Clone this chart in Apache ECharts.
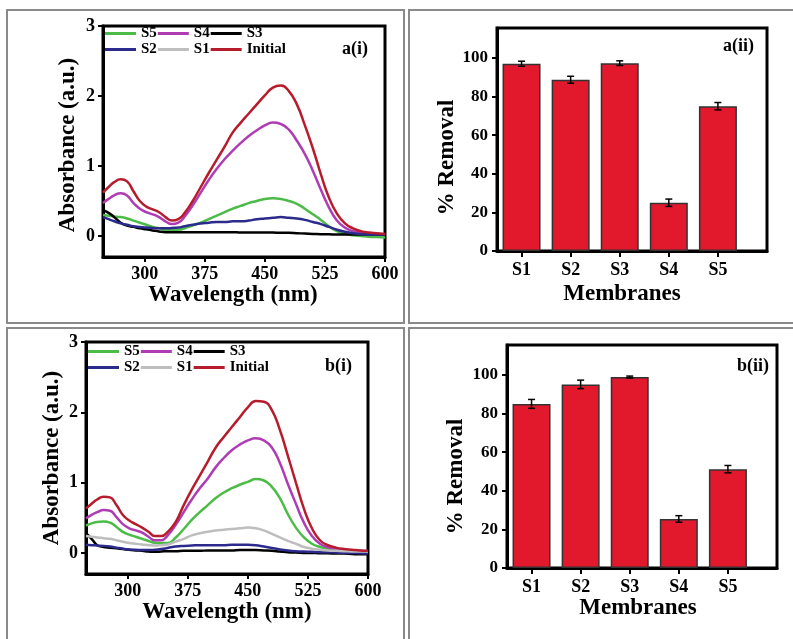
<!DOCTYPE html>
<html><head><meta charset="utf-8">
<script src="https://cdn.jsdelivr.net/npm/echarts@6/dist/echarts.min.js"></script>
<style>html,body{margin:0;padding:0;background:#fff}#c{width:793px;height:639px}</style>
</head><body><div id="c"></div>
<script>
// ---- data ----
const wavelengths = [248,255,262,270,278,286,294,302,310,318,326,334,342,350,360,370,380,390,400,410,420,430,440,450,460,470,480,490,500,510,520,530,540,550,560,570,580,590,600];
const aInitial = [0.62,0.70,0.77,0.81,0.78,0.64,0.50,0.42,0.38,0.34,0.27,0.22,0.24,0.33,0.50,0.70,0.90,1.09,1.28,1.48,1.62,1.75,1.88,2.01,2.12,2.15,2.07,1.88,1.58,1.25,0.88,0.55,0.32,0.18,0.11,0.07,0.05,0.04,0.03];
const aS4 = [0.47,0.53,0.58,0.61,0.58,0.47,0.39,0.34,0.31,0.27,0.21,0.17,0.19,0.28,0.44,0.62,0.80,0.96,1.10,1.22,1.33,1.43,1.51,1.58,1.62,1.60,1.52,1.36,1.17,0.93,0.66,0.41,0.22,0.12,0.07,0.05,0.03,0.02,0.02];
const aS5 = [0.30,0.29,0.28,0.27,0.25,0.22,0.19,0.16,0.13,0.11,0.09,0.085,0.09,0.11,0.15,0.19,0.24,0.29,0.34,0.39,0.43,0.47,0.50,0.53,0.54,0.53,0.50,0.46,0.39,0.31,0.23,0.14,0.07,0.03,0.01,0.0,-0.01,-0.015,-0.02];
const aS3 = [0.37,0.33,0.27,0.19,0.15,0.13,0.11,0.095,0.08,0.065,0.055,0.055,0.055,0.055,0.055,0.055,0.055,0.055,0.055,0.055,0.05,0.05,0.05,0.05,0.05,0.045,0.045,0.04,0.035,0.03,0.025,0.025,0.02,0.02,0.02,0.02,0.02,0.02,0.02];
const aS2 = [0.27,0.24,0.21,0.18,0.16,0.14,0.13,0.12,0.115,0.11,0.11,0.115,0.12,0.14,0.16,0.18,0.19,0.20,0.20,0.21,0.21,0.22,0.24,0.25,0.26,0.27,0.26,0.25,0.23,0.20,0.17,0.13,0.09,0.06,0.04,0.03,0.02,0.02,0.02];
const aS1 = [];
const bInitial = [0.63,0.70,0.76,0.80,0.79,0.68,0.54,0.46,0.41,0.36,0.30,0.24,0.24,0.30,0.44,0.68,0.90,1.10,1.30,1.50,1.65,1.79,1.93,2.07,2.16,2.15,2.03,1.75,1.38,1.00,0.63,0.35,0.18,0.11,0.075,0.055,0.045,0.035,0.03];
const bS4 = [0.49,0.54,0.58,0.61,0.60,0.51,0.41,0.35,0.32,0.29,0.23,0.18,0.18,0.25,0.40,0.58,0.76,0.92,1.06,1.22,1.35,1.46,1.54,1.60,1.63,1.60,1.50,1.28,0.98,0.70,0.43,0.24,0.13,0.08,0.06,0.045,0.035,0.03,0.025];
const bS5 = [0.39,0.42,0.44,0.445,0.43,0.37,0.30,0.26,0.23,0.20,0.17,0.145,0.14,0.14,0.22,0.34,0.47,0.58,0.68,0.78,0.86,0.92,0.97,1.01,1.05,1.03,0.94,0.78,0.55,0.36,0.22,0.13,0.085,0.06,0.045,0.035,0.03,0.025,0.02];
const bS1 = [0.24,0.23,0.22,0.21,0.20,0.18,0.16,0.14,0.13,0.12,0.11,0.105,0.11,0.12,0.16,0.20,0.25,0.28,0.30,0.32,0.33,0.34,0.35,0.36,0.35,0.32,0.27,0.22,0.17,0.13,0.085,0.06,0.045,0.035,0.03,0.025,0.02,0.02,0.02];
const bS2 = [0.115,0.11,0.105,0.10,0.09,0.075,0.06,0.05,0.045,0.04,0.04,0.045,0.055,0.07,0.09,0.10,0.105,0.11,0.11,0.11,0.11,0.115,0.115,0.115,0.11,0.09,0.07,0.05,0.035,0.025,0.02,0.015,0.01,0.01,0.005,0.0,0.0,-0.005,-0.01];
const bS3 = [0.28,0.20,0.11,0.085,0.075,0.065,0.055,0.045,0.035,0.03,0.02,0.015,0.02,0.025,0.025,0.03,0.03,0.03,0.035,0.035,0.035,0.035,0.04,0.04,0.04,0.035,0.03,0.02,0.01,0.005,0.0,0.0,-0.005,-0.005,-0.01,-0.01,-0.015,-0.02,-0.02];

const membranes = ['S1','S2','S3','S4','S5'];
const removalA = [97.0, 88.7, 97.3, 25.0, 75.0];
const errorA = [1.3, 1.8, 1.2, 1.9, 1.9];
const removalB = [85.0, 95.1, 98.9, 25.4, 51.2];
const errorB = [2.3, 2.2, 0.5, 1.7, 1.9];

const wlTicks = [300,375,450,525,600];
const absTicks = [0,1,2,3];
const remTicks = [0,20,40,60,80,100];
const catTicks = [1,2,3,4,5];

// ---- styling ----
const F = "'Liberation Serif','Times New Roman',serif";
const colors = {S5:'#4CBB47', S4:'#B03CB4', S3:'#000000', S2:'#2C2A8C', S1:'#BEBEBE', Initial:'#B71C2C'};
const legendNames = ['S5','S4','S3','S2','S1','Initial'];

function bold(size){ return {fontFamily:F, fontWeight:'bold', fontSize:size, color:'#000'}; }
function axisLine(){ return {show:true, onZero:false, lineStyle:{color:'#000', width:3}}; }
function tick(vals, len){ return {show:true, inside:false, length:len, lineStyle:{color:'#000', width:2}, customValues:vals}; }

function lineX(gi, gap, pad){
  return {type:'value', gridIndex:gi, min:248, max:600, axisLine:axisLine(), axisTick:tick(wlTicks,5),
    axisLabel:Object.assign({customValues:wlTicks, margin:8}, bold(18)), splitLine:{show:false},
    name:'Wavelength (nm)', nameLocation:'middle', nameGap:gap, nameTextStyle:Object.assign({padding:pad}, bold(23))};
}
function lineY(gi, gap, pad){
  return {type:'value', gridIndex:gi, min:-0.3, max:3, axisLine:axisLine(), axisTick:tick(absTicks,5),
    axisLabel:Object.assign({customValues:absTicks, margin:8}, bold(18)), splitLine:{show:false},
    name:'Absorbance (a.u.)', nameLocation:'middle', nameGap:gap, nameTextStyle:Object.assign({padding:pad}, bold(23))};
}
function barX(gi, gap, pad){
  return {type:'value', gridIndex:gi, min:0.5, max:6, axisLine:axisLine(), axisTick:tick(catTicks,6),
    axisLabel:Object.assign({customValues:catTicks, margin:10, formatter:v=>membranes[Math.round(v)-1]}, bold(18)),
    splitLine:{show:false},
    name:'Membranes', nameLocation:'middle', nameGap:gap, nameTextStyle:Object.assign({padding:pad}, bold(23))};
}
function barY(gi, gap, pad){
  return {type:'value', gridIndex:gi, min:0, max:115.5, axisLine:axisLine(), axisTick:tick(remTicks,5),
    axisLabel:Object.assign({customValues:remTicks, margin:9}, bold(17)), splitLine:{show:false},
    name:'% Removal', nameLocation:'middle', nameGap:gap, nameTextStyle:Object.assign({padding:pad}, bold(23))};
}
function lineSeries(name, vals, idx){
  return {type:'line', name:name, xAxisIndex:idx, yAxisIndex:idx, showSymbol:false, smooth:0.5,
    data: vals.map((v,i)=>[wavelengths[i], v]),
    lineStyle:{color:colors[name], width:2.5}, itemStyle:{color:colors[name]}, z:3};
}
function barSeries(vals, idx){
  return {type:'bar', xAxisIndex:idx, yAxisIndex:idx, barWidth:38,
    data: vals.map((v,i)=>[i+1, v]),
    itemStyle:{color:'#E2182D', borderColor:'#333', borderWidth:1.5}};
}
function errSeries(vals, errs, idx){
  return {type:'custom', xAxisIndex:idx, yAxisIndex:idx, z:10,
    data: vals.map((v,i)=>[i+1, v-errs[i], v+errs[i]]),
    renderItem:(params, api)=>{
      const x = api.value(0);
      const lo = api.coord([x, api.value(1)]), hi = api.coord([x, api.value(2)]);
      const hw = 3.5, st = {stroke:'#000', lineWidth:1.5};
      return {type:'group', children:[
        {type:'line', shape:{x1:lo[0],y1:lo[1],x2:hi[0],y2:hi[1]}, style:st},
        {type:'line', shape:{x1:lo[0]-hw,y1:lo[1],x2:lo[0]+hw,y2:lo[1]}, style:st},
        {type:'line', shape:{x1:hi[0]-hw,y1:hi[1],x2:hi[0]+hw,y2:hi[1]}, style:st}
      ]};
    }};
}
function legend(left, top){
  return {left:left, top:top, width:195, orient:'horizontal', icon:'rect', itemWidth:31, itemHeight:3, itemGap:1,
    padding:0, selectedMode:false, data:legendNames, textStyle:bold(15)};
}
const gridBox = {show:true, borderColor:'#000', borderWidth:3, backgroundColor:'transparent', containLabel:false};
const panel = (x,y,w,h)=>({type:'rect', silent:true, shape:{x:x,y:y,width:w,height:h}, style:{fill:'none', stroke:'#8a8a8a', lineWidth:2}});

const option = {
  backgroundColor:'#fff',
  animation:false,
  graphic:[panel(7,10,397,313), panel(409,10,420,313), panel(7,328,397,400), panel(409,328,420,400)],
  title:[
    {text:'a(i)', left:342, top:40, padding:0, textStyle:bold(18)},
    {text:'a(ii)', left:723, top:37, padding:0, textStyle:bold(18)},
    {text:'b(i)', left:325, top:357, padding:0, textStyle:bold(18)},
    {text:'b(ii)', left:737, top:357, padding:0, textStyle:bold(18)}
  ],
  legend:[legend(105,26), legend(88,344)],
  grid:[
    Object.assign({left:103, top:26, width:282, height:231}, gridBox),
    Object.assign({left:497, top:28, width:270, height:223}, gridBox),
    Object.assign({left:86, top:342, width:282, height:232}, gridBox),
    Object.assign({left:507, top:345, width:270, height:223}, gridBox)
  ],
  xAxis:[lineX(0,26,[0,22,0,0]), barX(1,32,[0,20,0,0]), lineX(2,26,[0,0,0,0]), barX(3,28,[0,8,0,0])],
  yAxis:[lineY(0,23,[0,7,0,0]), barY(1,38,[0,36,0,0]), lineY(2,22,[0,0,0,0]), barY(3,39,[0,40,0,0])],
  series:[
    lineSeries('S5',aS5,0), lineSeries('S4',aS4,0), lineSeries('S3',aS3,0), lineSeries('S2',aS2,0), lineSeries('S1',aS1,0), lineSeries('Initial',aInitial,0),
    barSeries(removalA,1), errSeries(removalA,errorA,1),
    lineSeries('S5',bS5,2), lineSeries('S4',bS4,2), lineSeries('S3',bS3,2), lineSeries('S2',bS2,2), lineSeries('S1',bS1,2), lineSeries('Initial',bInitial,2),
    barSeries(removalB,3), errSeries(removalB,errorB,3)
  ]
};
echarts.init(document.getElementById('c'), null, {renderer:'canvas'}).setOption(option);
</script>
</body></html>
